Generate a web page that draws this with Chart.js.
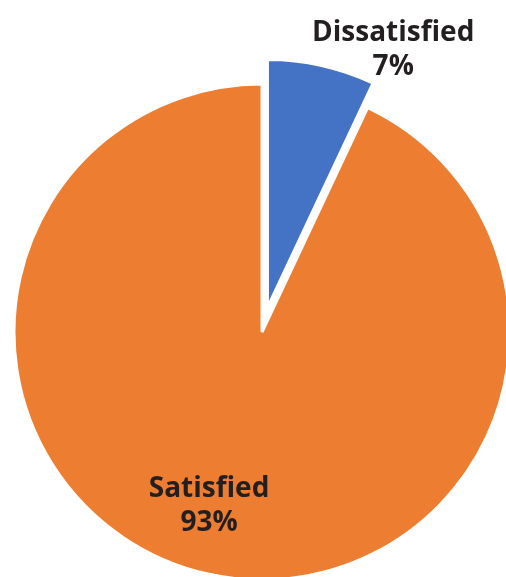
<!DOCTYPE html>
<html>
<head>
<meta charset="utf-8">
<script src="https://cdn.jsdelivr.net/npm/chart.js@4.4.1/dist/chart.umd.min.js"></script>
<style>
  html, body { margin: 0; padding: 0; background: #fff; overflow: hidden; }
  canvas { display: block; }
</style>
</head>
<body>
<canvas id="pieChart" width="506" height="577"></canvas>
<script>
const categories = ['Dissatisfied', 'Satisfied'];
const percentages = [7, 93];
const sliceColors = ['#4472C4', '#ED7D31'];

// how far each slice is pulled out from the centre, px
const explode = [25, 0];
// label anchor per slice: [fraction of radius, angle nudge in degrees]
const labelAnchors = [[1.157, 13.4], [0.734, 4.3]];

// built-in arc offset also grows the radius, so shift the arc centre instead
const explodeSlices = {
    id: 'explodeSlices',
    beforeDatasetsDraw(chart) {
        const meta = chart.getDatasetMeta(0);
        const cx = (chart.chartArea.left + chart.chartArea.right) / 2;
        const cy = (chart.chartArea.top + chart.chartArea.bottom) / 2;
        meta.data.forEach((arc, i) => {
            const mid = (arc.startAngle + arc.endAngle) / 2;
            arc.x = cx + Math.cos(mid) * explode[i];
            arc.y = cy + Math.sin(mid) * explode[i];
        });
    }
};

const sliceLabels = {
    id: 'sliceLabels',
    afterDatasetsDraw(chart) {
        const ctx = chart.ctx;
        const meta = chart.getDatasetMeta(0);
        ctx.save();
        ctx.font = 'bold 28px "Open Sans"';
        ctx.fillStyle = '#231F20';
        ctx.textAlign = 'center';
        ctx.textBaseline = 'middle';
        meta.data.forEach((arc, i) => {
            const [k, nudge] = labelAnchors[i];
            const a = (arc.startAngle + arc.endAngle) / 2 + nudge * Math.PI / 180;
            const lx = arc.x + Math.cos(a) * arc.outerRadius * k;
            const ly = arc.y + Math.sin(a) * arc.outerRadius * k;
            ctx.fillText(categories[i], lx, ly - 17);
            ctx.fillText(percentages[i] + '%', lx, ly + 17);
        });
        ctx.restore();
    }
};

const pieConfig = {
    type: 'pie',
    data: {
        labels: categories,
        datasets: [{
            data: percentages,
            backgroundColor: sliceColors,
            borderColor: '#ffffff',
            borderWidth: 3,
            radius: 248,
            clip: false
        }]
    },
    options: {
        responsive: false,
        animation: false,
        layout: { padding: { left: 18, top: 87 } },
        plugins: {
            legend: { display: false },
            tooltip: { enabled: false }
        }
    },
    plugins: [explodeSlices, sliceLabels]
};

new Chart(document.getElementById('pieChart'), pieConfig);
</script>
</body>
</html>
